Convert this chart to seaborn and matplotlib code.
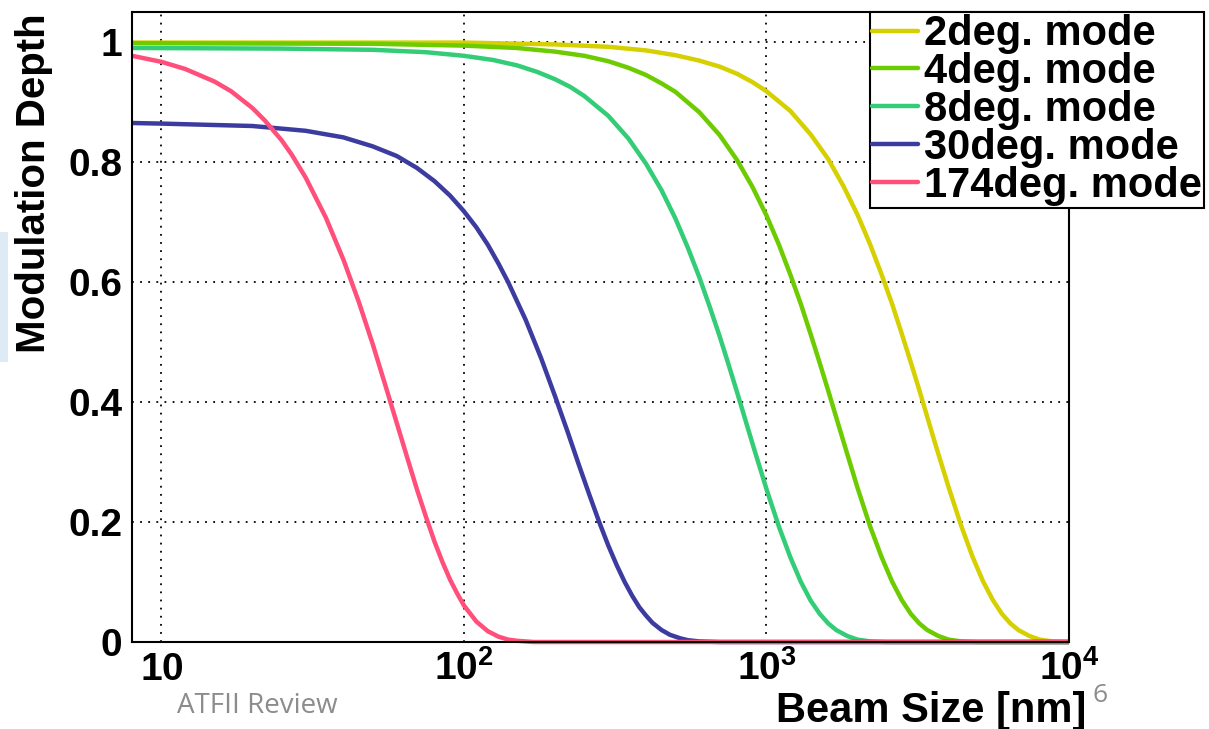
import matplotlib
matplotlib.use("Agg")
import matplotlib.pyplot as plt
import matplotlib.ticker as mticker
from matplotlib.lines import Line2D
from matplotlib.patches import Rectangle
import pandas as pd
import seaborn as sns

# beam size [nm] / modulation depth
size_2deg = [8, 100, 200, 300, 400, 500, 600, 700, 800, 900, 1000, 1200, 1400, 1600, 1800,
             2000, 2200, 2400, 2600, 2800, 3000, 3200, 3600, 4000, 4400, 4800, 5200, 5600,
             6000, 6400, 6800, 7400, 8000, 8800, 10000]
depth_2deg = [0.999, 0.999, 0.996, 0.992, 0.986, 0.978, 0.969, 0.959, 0.947, 0.933, 0.918,
              0.885, 0.846, 0.805, 0.759, 0.712, 0.663, 0.613, 0.564, 0.514, 0.466, 0.420,
              0.333, 0.258, 0.194, 0.142, 0.101, 0.070, 0.047, 0.031, 0.020, 0.010, 0.004,
              0.001, 0.000]

size_4deg = [8, 50, 100, 150, 200, 250, 300, 350, 400, 450, 500, 600, 700, 800, 900, 1000,
             1100, 1200, 1300, 1400, 1500, 1600, 1800, 2000, 2200, 2400, 2600, 2800, 3000,
             3200, 3400, 3700, 4000, 4400, 5000, 10000]
depth_4deg = [0.998, 0.997, 0.994, 0.990, 0.984, 0.977, 0.968, 0.957, 0.945, 0.931, 0.917,
              0.883, 0.845, 0.803, 0.758, 0.711, 0.662, 0.612, 0.563, 0.513, 0.465, 0.419,
              0.333, 0.257, 0.193, 0.142, 0.101, 0.070, 0.047, 0.031, 0.020, 0.010, 0.004,
              0.001, 0.000, 0.000]

size_8deg = [8, 25, 50, 75, 100, 125, 150, 175, 200, 225, 250, 300, 350, 400, 450, 500, 550,
             600, 650, 700, 750, 800, 900, 1000, 1100, 1200, 1300, 1400, 1500, 1600, 1700,
             1850, 2000, 2200, 2500, 10000]
depth_8deg = [0.990, 0.989, 0.987, 0.983, 0.977, 0.970, 0.961, 0.950, 0.938, 0.925, 0.910,
              0.877, 0.839, 0.797, 0.753, 0.706, 0.657, 0.608, 0.558, 0.510, 0.462, 0.416,
              0.330, 0.255, 0.192, 0.141, 0.100, 0.069, 0.047, 0.031, 0.020, 0.010, 0.004,
              0.001, 0.000, 0.000]

size_30deg = [8, 10, 20, 30, 40, 50, 60, 70, 80, 90, 100, 110, 120, 130, 140, 160, 180, 200,
              220, 240, 260, 280, 300, 320, 340, 360, 380, 400, 420, 450, 480, 520, 550, 600,
              700, 10000]
depth_30deg = [0.865, 0.864, 0.860, 0.852, 0.841, 0.826, 0.810, 0.790, 0.768, 0.744, 0.718,
               0.691, 0.662, 0.631, 0.600, 0.537, 0.473, 0.410, 0.351, 0.295, 0.245, 0.200,
               0.161, 0.128, 0.100, 0.077, 0.058, 0.044, 0.032, 0.020, 0.012, 0.006, 0.003,
               0.001, 0.000, 0.000]

size_174deg = [8, 10, 12, 15, 17, 20, 22, 25, 27, 30, 35, 40, 45, 50, 55, 60, 65, 70, 75, 80,
               85, 90, 95, 100, 110, 120, 130, 140, 150, 170, 200, 10000]
depth_174deg = [0.977, 0.967, 0.955, 0.934, 0.918, 0.890, 0.869, 0.836, 0.812, 0.774, 0.707,
                0.637, 0.566, 0.496, 0.428, 0.365, 0.307, 0.254, 0.208, 0.167, 0.133, 0.104,
                0.081, 0.061, 0.034, 0.018, 0.009, 0.004, 0.002, 0.000, 0.000, 0.000]

mode_labels = ["2deg. mode", "4deg. mode", "8deg. mode", "30deg. mode", "174deg. mode"]
mode_colors = ["#d6d000", "#6ccc00", "#33cc77", "#3c3ca0", "#ff4f7a"]
x_ticks = [10, 100, 1000, 10000]
x_ticklabels = ["$10$", "$10^{2}$", "$10^{3}$", "$10^{4}$"]
y_ticks = [0, 0.2, 0.4, 0.6, 0.8, 1.0]
y_ticklabels = ["0", "0.2", "0.4", "0.6", "0.8", "1"]

series = [(size_2deg, depth_2deg), (size_4deg, depth_4deg), (size_8deg, depth_8deg),
          (size_30deg, depth_30deg), (size_174deg, depth_174deg)]
df = pd.concat(
    [pd.DataFrame({"size": s, "depth": d, "mode": lab}) for (s, d), lab in zip(series, mode_labels)],
    ignore_index=True,
)

sns.set_theme(style="white")
plt.rcParams["font.family"] = ["Liberation Sans", "DejaVu Sans"]
plt.rcParams["font.weight"] = "bold"
plt.rcParams["text.color"] = "black"
plt.rcParams["xtick.color"] = "black"
plt.rcParams["ytick.color"] = "black"
plt.rcParams["mathtext.fontset"] = "custom"
plt.rcParams["mathtext.rm"] = "Liberation Sans:bold"
plt.rcParams["mathtext.bf"] = "Liberation Sans:bold"
plt.rcParams["mathtext.it"] = "Liberation Sans:bold"

W, H = 1209, 729
fig = plt.figure(figsize=(W / 100, H / 100), dpi=100)
ax = fig.add_axes([132 / W, 1 - 642 / H, (1069 - 132) / W, (642 - 12) / H])

sns.lineplot(data=df, x="size", y="depth", hue="mode", hue_order=mode_labels,
             palette=mode_colors, sort=False, estimator=None, linewidth=3.2,
             legend=False, ax=ax)
for ln in ax.lines:
    ln.set_clip_on(False)
    ln.set_solid_capstyle("butt")
    ln.set_solid_joinstyle("round")

ax.set_xscale("log")
ax.set_xlim(8, 10000)
ax.set_ylim(0, 1.05)

ax.xaxis.set_major_locator(mticker.FixedLocator(x_ticks))
ax.xaxis.set_major_formatter(mticker.FixedFormatter(x_ticklabels))
ax.xaxis.set_minor_locator(mticker.LogLocator(base=10, subs=[2, 3, 4, 5, 6, 7, 8, 9]))
ax.xaxis.set_minor_formatter(mticker.NullFormatter())
ax.yaxis.set_major_locator(mticker.FixedLocator(y_ticks))
ax.yaxis.set_major_formatter(mticker.FixedFormatter(y_ticklabels))
ax.yaxis.set_minor_locator(mticker.MultipleLocator(0.04))

ax.tick_params(axis="both", which="both", direction="in", colors="black", width=1.4,
               top=False, right=False)
ax.tick_params(axis="x", which="major", length=14, pad=27, labelsize=28)
ax.tick_params(axis="x", which="minor", length=6)
ax.tick_params(axis="y", which="major", length=20, pad=7, labelsize=28)
ax.tick_params(axis="y", which="minor", length=10)
for lab in ax.get_xticklabels():
    lab.set_va("baseline")

ax.grid(True, which="major", color="black", linestyle=(0, (1, 3.5)), linewidth=1.3)
for sp in ax.spines.values():
    sp.set_visible(True)
    sp.set_color("black")
    sp.set_linewidth(1.5)
ax.set_xlabel("")
ax.set_ylabel("")

fig.text(34 / W, 1 - 183 / H, "Modulation Depth", rotation=90, ha="center", va="center",
         fontsize=29, fontweight="bold")
fig.text(1086 / W, 1 - 722 / H, "Beam Size [nm]", ha="right", va="baseline",
         fontsize=30, fontweight="bold")
fig.text(177 / W, 1 - 713 / H, "ATFII Review", ha="left", va="baseline",
         fontsize=20, fontweight="normal", color="#8c8c8c", family=["Open Sans", "DejaVu Sans"])
fig.text(1092 / W, 1 - 702 / H, "6", ha="left", va="baseline",
         fontsize=19, fontweight="normal", color="#8c8c8c", family=["Open Sans", "DejaVu Sans"])
fig.patches.append(Rectangle((0, 1 - 362 / H), 8 / W, 130 / H, transform=fig.transFigure,
                             facecolor="#deebf5", edgecolor="none"))

handles = [Line2D([], [], color=c, linewidth=3.2) for c in mode_colors]
leg = fig.legend(handles, mode_labels, loc="upper left",
                 bbox_to_anchor=(870 / W, 1 - 12 / H), frameon=True, fancybox=False,
                 framealpha=1, edgecolor="black", borderpad=0.05, borderaxespad=0,
                 handlelength=1.1, handletextpad=0.15, labelspacing=-0.05,
                 prop={"size": 30, "weight": "bold"})
leg.get_frame().set_linewidth(1.5)

fig.savefig("out.png", dpi=100)
